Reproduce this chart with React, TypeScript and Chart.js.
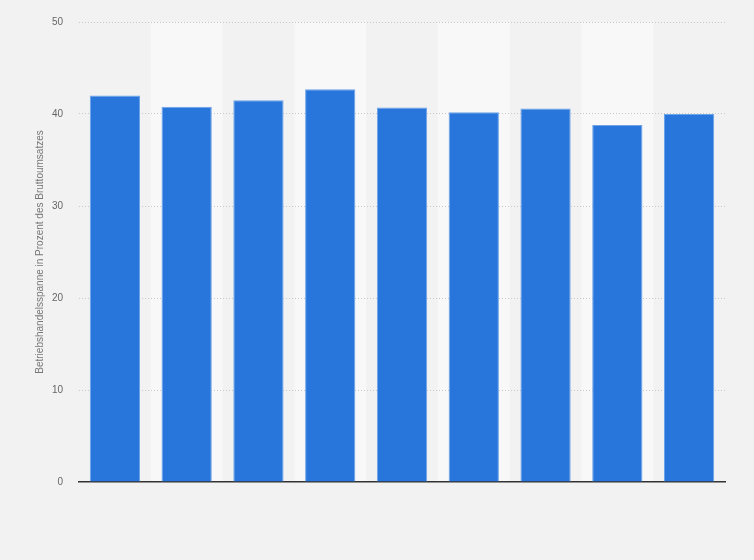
import { useEffect, useRef } from "react";
import { Chart, registerables } from "chart.js";

Chart.register(...registerables);

const years = ["2011", "2012", "2013", "2014", "2015", "2016", "2017", "2018", "2019"];
const margins = [42.0, 40.8, 41.5, 42.7, 40.7, 40.2, 40.6, 38.8, 40.0];
const yTicks = [0, 10, 20, 30, 40, 50];

// page background plus alternating lighter column bands
const bandsPlugin = {
  id: "bands",
  beforeDraw(chart: any) {
    const { ctx, chartArea, scales, width, height } = chart;
    ctx.save();
    ctx.fillStyle = "#f2f2f2";
    ctx.fillRect(0, 0, width, height);
    const x = scales.x;
    const step = x.width / years.length;
    ctx.fillStyle = "#f8f8f8";
    years.forEach((_, i) => {
      if (i % 2 === 1) {
        const left = x.getPixelForValue(i) - step / 2;
        ctx.fillRect(left, chartArea.top, step, chartArea.bottom - chartArea.top);
      }
    });
    ctx.restore();
  },
};

const App = () => {
  const canvasRef = useRef<HTMLCanvasElement>(null);

  useEffect(() => {
    if (!canvasRef.current) return;

    const chart = new Chart(canvasRef.current, {
      type: "bar",
      data: {
        labels: years,
        datasets: [
          {
            label: "Betriebshandelsspanne",
            data: margins,
            backgroundColor: "#2876dc",
            borderColor: "#6ca3ea",
            borderWidth: 1,
            borderSkipped: "bottom",
            barPercentage: 0.7,
            categoryPercentage: 1,
          },
        ],
      },
      options: {
        animation: false,
        responsive: true,
        maintainAspectRatio: false,
        layout: { padding: { top: 20, right: 29, bottom: 70, left: 0 } },
        plugins: {
          legend: { display: false },
          tooltip: { enabled: false },
        },
        scales: {
          x: {
            grid: { display: false },
            ticks: { display: false },
            border: { display: true, color: "#333333", width: 1.5 },
          },
          y: {
            min: 0,
            max: 50,
            afterBuildTicks: (scale: any) => {
              scale.ticks = yTicks.map((v) => ({ value: v }));
            },
            afterFit: (scale: any) => {
              scale.width = 79;
            },
            border: { display: false, dash: [1, 2] },
            grid: {
              drawTicks: false,
              color: (c: any) => (c.tick && c.tick.value === 0 ? "rgba(0,0,0,0)" : "#c8c8c8"),
              lineWidth: 1,
            },
            ticks: {
              padding: 16,
              color: "#666666",
              font: { family: "'Liberation Sans', Arial, sans-serif", size: 10 },
            },
            title: {
              display: true,
              text: "Betriebshandelsspanne in Prozent des Bruttoumsatzes",
              color: "#777777",
              font: { family: "'Liberation Sans', Arial, sans-serif", size: 10 },
              padding: { top: 34, bottom: 0 },
            },
          },
        },
      },
      plugins: [bandsPlugin],
    });

    return () => {
      chart.destroy();
    };
  }, []);

  return (
    <div style={{ position: "fixed", left: 0, top: 0, width: 754, height: 560, background: "#f2f2f2" }}>
      <canvas ref={canvasRef}></canvas>
    </div>
  );
};

export default App;
